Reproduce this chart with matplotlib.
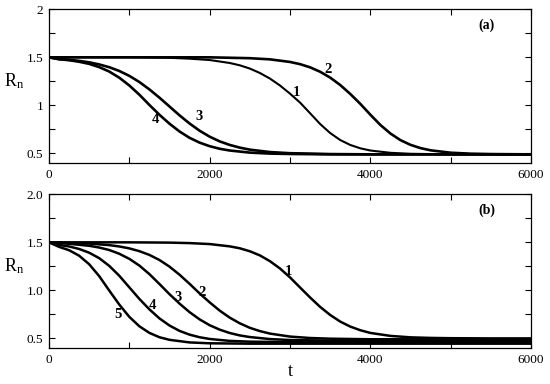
import matplotlib
matplotlib.use("Agg")
import matplotlib.pyplot as plt

plt.rcParams['font.family'] = ['Liberation Serif', 'DejaVu Serif']
plt.rcParams['mathtext.fontset'] = 'custom'
plt.rcParams['mathtext.rm'] = 'Liberation Serif'
plt.rcParams['mathtext.it'] = 'Liberation Serif:italic'

# ---------------- panel (a) ----------------
ta1 = [0, 500, 1000, 1500, 1750, 2000, 2250, 2375, 2500, 2625, 2750, 2875, 3000, 3125,
       3250, 3375, 3500, 3625, 3750, 3875, 4000, 4250, 4500, 5000, 6000]
a1 = [1.5, 1.5, 1.5, 1.495, 1.486, 1.472, 1.441, 1.417, 1.383, 1.337, 1.279, 1.207, 1.122, 1.029,
      0.918, 0.806, 0.712, 0.639, 0.588, 0.553, 0.530, 0.506, 0.496, 0.49, 0.49]

ta2 = [0, 1000, 2000, 2500, 2750, 3000, 3125, 3250, 3375, 3500, 3625, 3750, 3875, 4000,
       4125, 4250, 4375, 4500, 4625, 4750, 5000, 5250, 5500, 6000]
a2 = [1.5, 1.5, 1.5, 1.491, 1.479, 1.452, 1.429, 1.396, 1.350, 1.289, 1.212, 1.119, 1.016, 0.903,
      0.796, 0.707, 0.638, 0.589, 0.555, 0.532, 0.507, 0.497, 0.493, 0.49]

ta3 = [0, 125, 250, 375, 500, 625, 750, 875, 1000, 1125, 1250, 1375, 1500, 1625, 1750, 1875,
       2000, 2125, 2250, 2375, 2500, 2750, 3000, 3500, 4000, 6000]
a3 = [1.5, 1.482, 1.474, 1.463, 1.448, 1.426, 1.397, 1.358, 1.307, 1.243, 1.166, 1.080, 0.988,
      0.896, 0.811, 0.736, 0.674, 0.625, 0.588, 0.560, 0.539, 0.514, 0.502, 0.493, 0.49, 0.49]

ta4 = [0, 125, 250, 375, 500, 625, 750, 875, 1000, 1125, 1250, 1375, 1500, 1625, 1750, 1875,
       2000, 2125, 2250, 2500, 2750, 3000, 3500, 6000]
a4 = [1.5, 1.480, 1.470, 1.454, 1.432, 1.398, 1.352, 1.288, 1.207, 1.111, 1.004, 0.902, 0.809,
      0.728, 0.662, 0.612, 0.575, 0.548, 0.530, 0.508, 0.498, 0.494, 0.49, 0.49]

# ---------------- panel (b) ----------------
tb1 = [0, 1000, 1500, 1750, 2000, 2250, 2375, 2500, 2625, 2750, 2875, 3000, 3125, 3250, 3375,
       3500, 3625, 3750, 3875, 4000, 4250, 4500, 4750, 5000, 5500, 6000]
b1 = [1.5, 1.5, 1.497, 1.492, 1.482, 1.458, 1.438, 1.407, 1.364, 1.304, 1.228, 1.135, 1.030, 0.926,
      0.828, 0.744, 0.675, 0.623, 0.585, 0.557, 0.526, 0.511, 0.505, 0.502, 0.50, 0.50]

tb2 = [0, 250, 500, 750, 875, 1000, 1125, 1250, 1375, 1500, 1625, 1750, 1875, 2000, 2125, 2250,
       2375, 2500, 2625, 2750, 3000, 3250, 3500, 4000, 6000]
b2 = [1.5, 1.494, 1.487, 1.471, 1.457, 1.437, 1.408, 1.369, 1.316, 1.247, 1.163, 1.068, 0.968,
      0.875, 0.789, 0.716, 0.657, 0.610, 0.576, 0.550, 0.519, 0.504, 0.497, 0.491, 0.49]

tb3 = [0, 250, 500, 625, 750, 875, 1000, 1125, 1250, 1375, 1500, 1625, 1750, 1875, 2000, 2125,
       2250, 2375, 2500, 2750, 3000, 3500, 6000]
b3 = [1.5, 1.485, 1.464, 1.446, 1.420, 1.381, 1.328, 1.258, 1.169, 1.066, 0.960, 0.862, 0.773,
      0.698, 0.637, 0.591, 0.556, 0.531, 0.514, 0.493, 0.483, 0.477, 0.475]

tb4 = [0, 125, 250, 375, 500, 625, 750, 875, 1000, 1125, 1250, 1375, 1500, 1625, 1750, 1875,
       2000, 2250, 2500, 3000, 6000]
b4 = [1.5, 1.473, 1.457, 1.431, 1.392, 1.335, 1.255, 1.152, 1.031, 0.911, 0.802, 0.708, 0.634,
      0.578, 0.539, 0.512, 0.494, 0.474, 0.466, 0.461, 0.46]

tb5 = [0, 125, 250, 375, 500, 625, 750, 875, 1000, 1125, 1250, 1375, 1500, 1750, 2000, 2500, 6000]
b5 = [1.5, 1.453, 1.418, 1.361, 1.272, 1.148, 0.998, 0.852, 0.724, 0.626, 0.557, 0.512, 0.485,
      0.458, 0.449, 0.445, 0.445]

xticks = [0, 1000, 2000, 3000, 4000, 5000, 6000]
xticklabels = ['0', '', '2000', '', '4000', '', '6000']
yticks = [0.5, 0.75, 1.0, 1.25, 1.5, 1.75, 2.0]
yticklabels_a = ['0.5', '', '1', '', '1.5', '', '2']
yticklabels_b = ['0.5', '', '1.0', '', '1.5', '', '2.0']

curve_labels_a = [('1', 3075, 1.133), ('2', 3473, 1.371), ('3', 1867, 0.884), ('4', 1320, 0.853)]
curve_labels_b = [('1', 2975, 1.195), ('2', 1905, 0.978), ('3', 1606, 0.926),
                  ('4', 1282, 0.842), ('5', 859, 0.749)]

fig = plt.figure(figsize=(5.5, 3.84), dpi=100)
axA = fig.add_axes([49/550, 1-163/384, 482/550, 153.7/384])
axB = fig.add_axes([49/550, 1-348/384, 482/550, 153.7/384])

for tt, s, lw in zip([ta1, ta2, ta3, ta4], [a1, a2, a3, a4], [1.5, 1.9, 1.9, 1.9]):
    axA.plot(tt, s, color='black', lw=lw, solid_joinstyle='round')
for tt, s in zip([tb1, tb2, tb3, tb4, tb5], [b1, b2, b3, b4, b5]):
    axB.plot(tt, s, color='black', lw=1.8, solid_joinstyle='round')

for ax, ylabs, clabs, tag in [(axA, yticklabels_a, curve_labels_a, '(a)'),
                               (axB, yticklabels_b, curve_labels_b, '(b)')]:
    ax.set_xlim(0, 6000)
    ax.set_ylim(0.4, 2.0)
    ax.set_xticks(xticks)
    ax.set_xticklabels(xticklabels, fontsize=9.5)
    ax.set_yticks(yticks)
    ax.set_yticklabels(ylabs, fontsize=9.5)
    ax.tick_params(direction='in', length=4.5, width=0.8, top=True, right=True, pad=4)
    for sp in ax.spines.values():
        sp.set_linewidth(0.9)
    ax.set_ylabel(r'$\mathrm{R_n}$', rotation=0, fontsize=13)
    ax.yaxis.set_label_coords(-0.072, 0.47)
    for txt, x, y in clabs:
        ax.text(x, y, txt, fontsize=10.5, fontweight='bold', ha='center', va='center')
    ax.text(5452, 1.837, tag, fontsize=10, fontweight='bold', ha='center', va='center')

axB.set_xlabel('t', fontsize=13)
axB.xaxis.set_label_coords(0.5, -0.095)

fig.savefig('out.png', dpi=100)
